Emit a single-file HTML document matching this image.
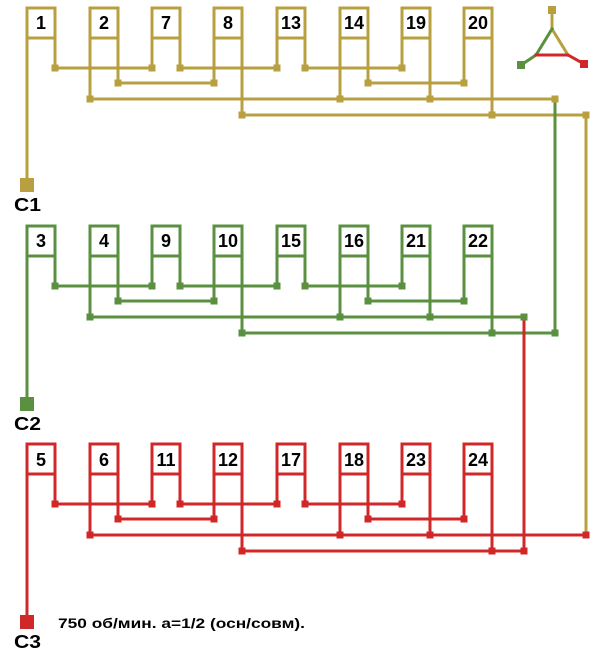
<!DOCTYPE html>
<html><head><meta charset="utf-8"><style>
html,body{margin:0;padding:0;background:#fff;width:605px;height:655px;overflow:hidden}
svg{display:block}
text{font-family:"Liberation Sans",sans-serif;font-weight:bold;fill:#000}
</style></head><body>
<svg id="s" width="605" height="655" viewBox="0 0 605 655" xmlns="http://www.w3.org/2000/svg">
<g id="g"></g>
<g font-size="18" text-anchor="middle">
<text x="41" y="29">1</text><text x="104" y="29">2</text><text x="166" y="29">7</text><text x="228" y="29">8</text><text x="291" y="29">13</text><text x="354" y="29">14</text><text x="416" y="29">19</text><text x="478" y="29">20</text>
<text x="41" y="247">3</text><text x="104" y="247">4</text><text x="166" y="247">9</text><text x="228" y="247">10</text><text x="291" y="247">15</text><text x="354" y="247">16</text><text x="416" y="247">21</text><text x="478" y="247">22</text>
<text x="41" y="466">5</text><text x="104" y="466">6</text><text x="166" y="466">11</text><text x="228" y="466">12</text><text x="291" y="466">17</text><text x="354" y="466">18</text><text x="416" y="466">23</text><text x="478" y="466">24</text>
</g>
<g font-size="18">
<text x="14" y="211" textLength="27" lengthAdjust="spacingAndGlyphs">C1</text><text x="14" y="430" textLength="27" lengthAdjust="spacingAndGlyphs">C2</text><text x="14" y="648" textLength="27" lengthAdjust="spacingAndGlyphs">C3</text>
</g>
<text x="58" y="628" font-size="14" textLength="247" lengthAdjust="spacingAndGlyphs">750 об/мин. a=1/2 (осн/совм).</text>
<g stroke-width="3" fill="none" stroke-linecap="square">
<polyline points="552,12 552,29 568,55" stroke="#b8a040"/>
<polyline points="552,29 536,55 521,65" stroke="#5a9040"/>
<polyline points="536,55 568,55 584,64" stroke="#d02828"/>
</g>
<rect x="548" y="6" width="8" height="8" fill="#b8a040"/>
<rect x="517" y="61" width="8" height="8" fill="#5a9040"/>
<rect x="580" y="60" width="8" height="8" fill="#d02828"/>
</svg>
<script>
var NS="http://www.w3.org/2000/svg",g=document.getElementById("g");
function L(x1,y1,x2,y2,c){var l=document.createElementNS(NS,"line");l.setAttribute("x1",x1);l.setAttribute("y1",y1);l.setAttribute("x2",x2);l.setAttribute("y2",y2);l.setAttribute("stroke",c);l.setAttribute("stroke-width",3);l.setAttribute("stroke-linecap","square");g.appendChild(l);}
function D(x,y,c){var r=document.createElementNS(NS,"rect");r.setAttribute("x",x-3.5);r.setAttribute("y",y-3.5);r.setAttribute("width",7);r.setAttribute("height",7);r.setAttribute("fill",c);g.appendChild(r);}
var X=[27,90,152,214,277,340,402,464];
var conn=[["t","a"],["c","b"],["a","a"],["b","d"],["a","a"],["c","b"],["a","c"],["b","d"]];
var rows=[{T:8,c:"#b8a040",ce:555,de:586,term:185},{T:226,c:"#5a9040",ce:524,de:555,term:404},{T:444,c:"#d02828",ce:586,de:524,term:622}];
rows.forEach(function(r){
 var Y={a:r.T+60,b:r.T+75,c:r.T+91,d:r.T+107};
 for(var i=0;i<8;i++){
  var x=X[i],x2=x+28;
  L(x,r.T,x2,r.T,r.c);L(x,r.T+30,x2,r.T+30,r.c);
  var lb=conn[i][0]=="t"?r.term:Y[conn[i][0]];
  L(x,r.T,x,lb,r.c);L(x2,r.T,x2,Y[conn[i][1]],r.c);
  if(conn[i][0]!="t")D(x,lb,r.c);
  D(x2,Y[conn[i][1]],r.c);
 }
 L(55,Y.a,152,Y.a,r.c);L(180,Y.a,277,Y.a,r.c);L(305,Y.a,402,Y.a,r.c);
 L(117,Y.b,214,Y.b,r.c);L(368,Y.b,464,Y.b,r.c);
 L(90,Y.c,r.ce,Y.c,r.c);D(r.ce,Y.c,r.c);
 L(242,Y.d,r.de,Y.d,r.c);D(r.de,Y.d,r.c);
 var s=document.createElementNS(NS,"rect");s.setAttribute("x",20);s.setAttribute("y",r.term-7);s.setAttribute("width",14);s.setAttribute("height",14);s.setAttribute("fill",r.c);g.appendChild(s);
});
L(555,99,555,333,"#5a9040");
L(586,115,586,535,"#b8a040");
L(524,317,524,551,"#d02828");
D(555,99,"#b8a040");D(586,115,"#b8a040");D(524,317,"#5a9040");D(586,535,"#d02828");D(524,551,"#d02828");
</script>
</body></html>
